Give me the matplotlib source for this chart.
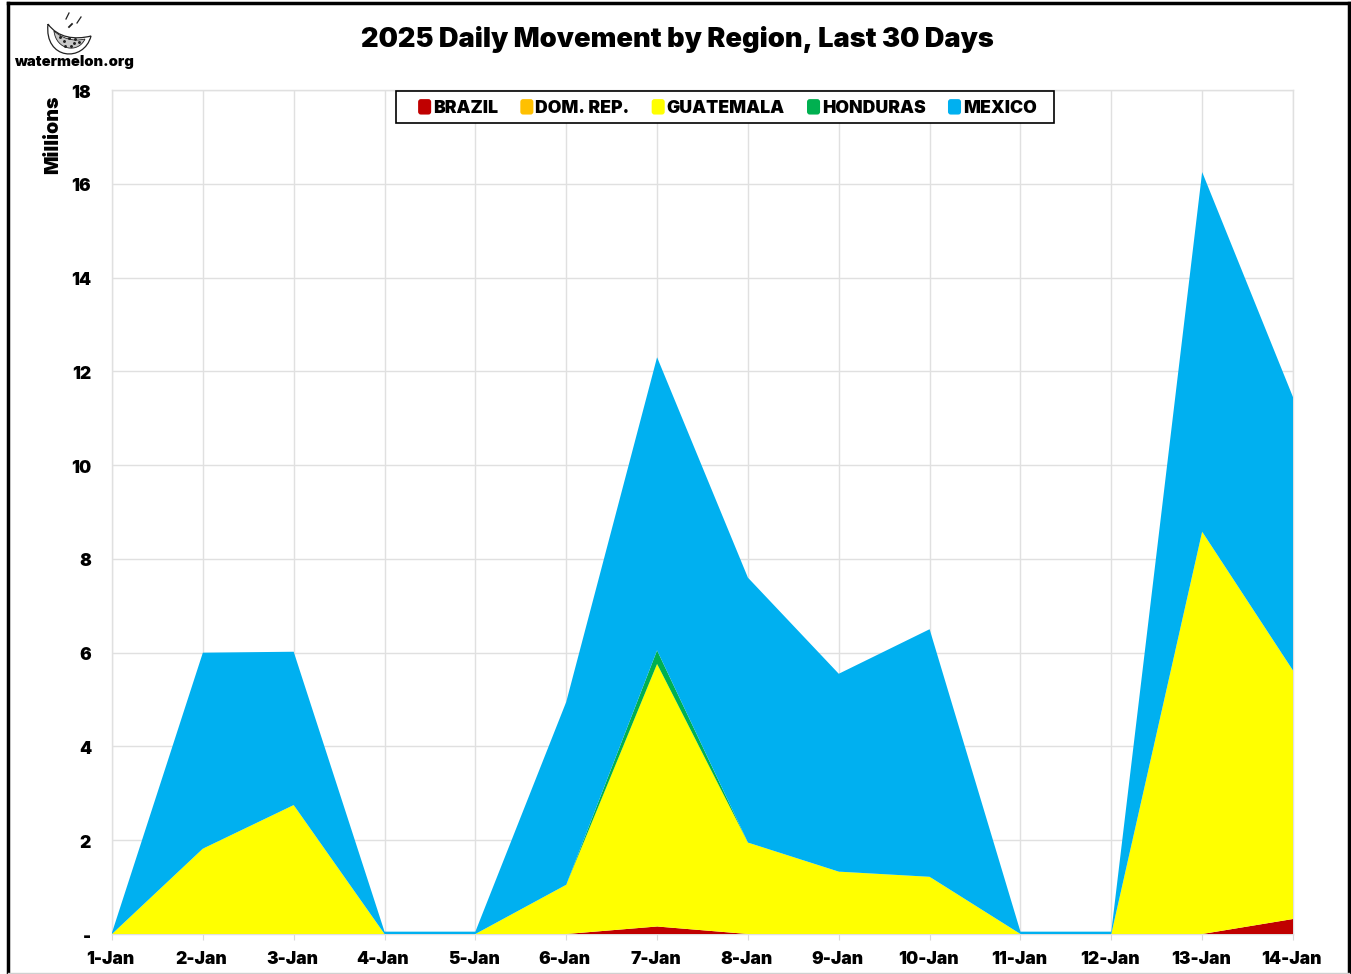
import numpy as np
import matplotlib
matplotlib.use('Agg')
import matplotlib.pyplot as plt
from matplotlib.patches import Patch, PathPatch, Rectangle, FancyBboxPatch
from matplotlib.path import Path
from matplotlib.legend_handler import HandlerPatch
from matplotlib.lines import Line2D
from matplotlib.transforms import ScaledTranslation

plt.rcParams['font.family'] = ['Inter', 'DejaVu Sans']

# Daten, in Millionen
dates = ['1-Jan', '2-Jan', '3-Jan', '4-Jan', '5-Jan', '6-Jan', '7-Jan',
         '8-Jan', '9-Jan', '10-Jan', '11-Jan', '12-Jan', '13-Jan', '14-Jan']
brazil = [0, 0, 0, 0, 0, 0, 0.16, 0, 0, 0, 0, 0, 0, 0.32]
dom_rep = [0, 0, 0, 0, 0, 0, 0, 0, 0, 0, 0, 0, 0, 0]
guatemala = [0, 1.82, 2.75, 0, 0, 1.05, 5.6, 1.95, 1.33, 1.22, 0, 0, 8.58, 5.3]
honduras = [0, 0, 0, 0, 0, 0, 0.29, 0, 0, 0, 0, 0, 0, 0]
mexico = [0.03, 4.18, 3.27, 0.05, 0.05, 3.9, 6.25, 5.65, 4.22, 5.28, 0.05, 0.05, 7.67, 5.83]

names = ['BRAZIL', 'DOM. REP.', 'GUATEMALA', 'HONDURAS', 'MEXICO']
colors = ['#C00000', '#FFC000', '#FFFF00', '#00B050', '#00B0F0']
yticks = [0, 2, 4, 6, 8, 10, 12, 14, 16, 18]
ylabels = ['-', '2', '4', '6', '8', '10', '12', '14', '16', '18']

W, H = 1351, 974
fig = plt.figure(figsize=(W / 100, H / 100), dpi=100)
ax = fig.add_axes([112 / W, 1 - 934 / H, (1293 - 112) / W, (934 - 90) / H])

x = np.arange(len(dates))
ax.stackplot(x, brazil, dom_rep, guatemala, honduras, mexico, colors=colors, linewidth=0, zorder=3)

ax.set_xlim(0, len(dates) - 1)
ax.set_ylim(0, 18)
ax.set_xticks(x)
ax.set_xticklabels(dates, fontsize=12.5, fontweight='black')
ax.set_yticks(yticks)
ax.set_yticklabels(ylabels, fontsize=12.5, fontweight='black')
ax.tick_params(axis='x', length=4, color='#d9d9d9', pad=8)
ax.tick_params(axis='y', length=0, pad=15)
ax.grid(True, color='#e0e0e0', linewidth=1, zorder=0)
ax.set_axisbelow(True)
for s in ax.spines.values():
    s.set_color('#e0e0e0')
    s.set_linewidth(1)
    s.set_zorder(1)

# y-Beschriftung einen Pixel tiefer, x-Beschriftung etwas nach links
for lab in ax.get_yticklabels():
    lab.set_transform(lab.get_transform() + ScaledTranslation(0, -1 / 100, fig.dpi_scale_trans))
for lab in ax.get_xticklabels():
    lab.set_transform(lab.get_transform() + ScaledTranslation(-1.5 / 100, 0, fig.dpi_scale_trans))

fig.text(53 / W, 1 - 135 / H, 'Millions', rotation=90, ha='center', va='center',
         fontsize=14, fontweight='black')
fig.text(677.5 / W, 1 - 39.5 / H, '2025 Daily Movement by Region, Last 30 Days', ha='center', va='center',
         fontsize=19.6, fontweight='black')


# Legende mit abgerundeten Farbfeldern
class RoundHandler(HandlerPatch):
    def create_artists(self, legend, orig_handle, xdescent, ydescent, width, height, fontsize, trans):
        p = FancyBboxPatch((1 - xdescent, 1 - ydescent), width - 2, height - 2,
                           boxstyle='round,pad=1,rounding_size=2', facecolor=orig_handle.get_facecolor(),
                           edgecolor='none', transform=trans)
        return [p]


fig.add_artist(Rectangle((396 / W, 1 - 123 / H), (1054 - 396) / W, 32 / H, transform=fig.transFigure,
                         facecolor='white', edgecolor='black', linewidth=1.2, zorder=9))
handles = [Patch(facecolor=c) for c in colors]
leg = fig.legend(handles, names, ncol=5, loc='center', bbox_to_anchor=(727.5 / W, 1 - 108 / H),
                 prop={'size': 12.7, 'weight': 'black'}, frameon=False, handlelength=0.74,
                 handleheight=0.97, handletextpad=0.12, columnspacing=1.25, borderpad=0,
                 borderaxespad=0, handler_map={Patch: RoundHandler()})
leg.set_zorder(10)

# Rahmen oben und an den Seiten
for xs, ys in [([8, 8], [3, 974]), ([8, 1349], [3, 3]), ([1349, 1349], [3, 974])]:
    fig.add_artist(Line2D([v / W for v in xs], [1 - v / H for v in ys], color='black', linewidth=2.5))
fig.add_artist(Line2D([8 / W, 1349 / W], [1 - 973 / H, 1 - 973 / H], color='#d0d0d0', linewidth=1))

# Logo
logo = fig.add_axes([0, 1 - 80 / H, 140 / W, 80 / H])
logo.set_xlim(0, 140)
logo.set_ylim(80, 0)
logo.axis('off')
C = Path.CURVE4
rind = Path([(48, 24), (44, 60), (84, 63), (91, 36), (75, 40), (58, 38), (48, 24)],
            [Path.MOVETO, C, C, C, C, C, C])
flesh = Path([(54, 31), (56, 50), (78, 54), (85, 39), (72, 42), (62, 38), (54, 31)],
             [Path.MOVETO, C, C, C, C, C, C])
logo.add_patch(PathPatch(rind, facecolor='white', edgecolor='#222222', linewidth=0.9))
logo.add_patch(PathPatch(flesh, facecolor='#c8c8c8', edgecolor='#222222', linewidth=0.6))
sx = [60, 64, 69, 74, 79, 65, 71, 75]
sy = [37, 41, 38, 43, 42, 46, 46, 39]
logo.scatter(sx, sy, s=1.2, color='#222222', zorder=5)
logo.plot([66, 69], [19, 13], color='#222222', linewidth=0.9)
logo.plot([77, 81], [23, 17], color='#222222', linewidth=0.9)
logo.plot([69, 72], [27, 24], color='#222222', linewidth=1.3)
logo.text(73.5, 62, 'watermelon.org', ha='center', va='center', fontsize=10.6, fontweight='black')

fig.savefig('out.png', dpi=100)
